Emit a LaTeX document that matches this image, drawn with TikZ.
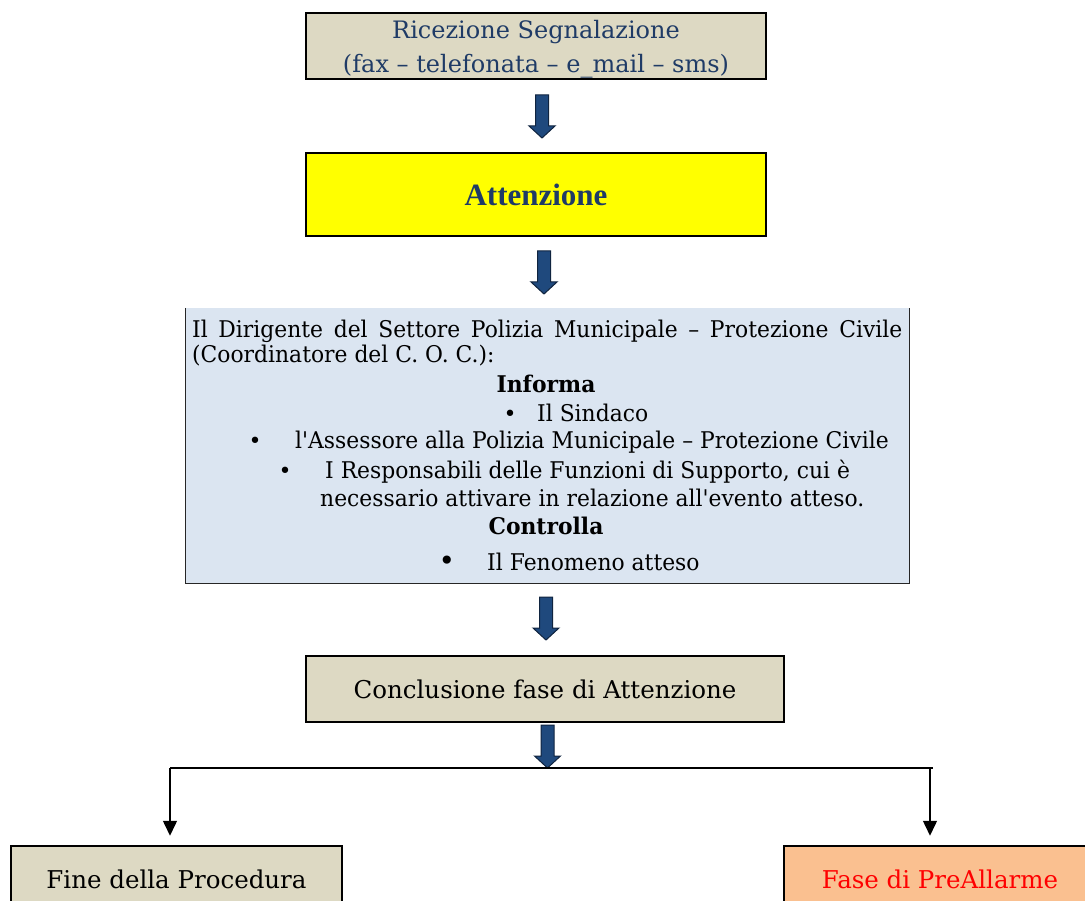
\documentclass[tikz,border=0pt]{standalone}
\usepackage{fontspec}
\setmainfont{DejaVu Serif}
\newfontfamily\timesfont{Liberation Serif}
\newfontfamily\narrowfont[FakeStretch=0.95]{DejaVu Serif}
\usetikzlibrary{arrows.meta}
\definecolor{tanfill}{HTML}{DDD9C3}
\definecolor{bluefill}{HTML}{DBE5F1}
\definecolor{orangefill}{HTML}{FAC090}
\definecolor{yellowfill}{HTML}{FFFF00}
\definecolor{titleblue}{HTML}{1F3B66}
\definecolor{arrowfill}{HTML}{1F497D}
\definecolor{arrowline}{HTML}{10243F}
\definecolor{redtext}{HTML}{FF0000}
\tikzset{
  box/.style={draw=black, line width=2.5pt, inner sep=0pt, align=center},
  tanbox/.style={box, fill=tanfill},
  blockarrow/.pic={
    \path[draw=arrowline, fill=arrowfill, line width=1pt, line join=miter]
      (-6.5,0) -- (6.5,0) -- (6.5,31) -- (13,31) -- (0,43) -- (-13,31) -- (-6.5,31) -- cycle;
  },
  mtext/.style={inner sep=0pt, anchor=base west, font=\narrowfont\fontsize{23}{26}\selectfont},
  mbold/.style={inner sep=0pt, anchor=base, font=\narrowfont\bfseries\fontsize{23}{26}\selectfont},
  bul/.style={inner sep=0pt, anchor=base, font=\fontsize{22}{24}\selectfont},
  thin/.style={line width=1.5pt, draw=black},
  tip/.style={-{Triangle[width=14pt,length=15pt]}, line width=1.5pt}
}
\begin{document}
\begin{tikzpicture}[x=1pt,y=-1pt]
\useasboundingbox (0,0) rectangle (1085,901);
\clip (0,0) rectangle (1085,901);
% box 1
\node[tanbox, minimum width=460pt, minimum height=66pt] (rice) at (536,46) {};
\node[inner sep=0pt, align=center, font=\fontsize{24}{34}\selectfont, text=titleblue] (ricetext) at (536,49)
  {Ricezione Segnalazione\\(fax – telefonata – e\_mail – sms)};
\pic (a1) at (542,95) {blockarrow};
% box 2
\node[box, fill=yellowfill, line width=2.5pt, minimum width=460pt, minimum height=83pt,
  font=\timesfont\bfseries\fontsize{31}{34}\selectfont, text=titleblue] (att) at (536,194.5) {Attenzione};
\pic (a2) at (544,251) {blockarrow};
% box 3
\node[fill=bluefill, inner sep=0pt, minimum width=723pt, minimum height=275pt] (dir) at (547.5,445.5) {};
\draw[line width=1pt, draw=black!85] (dir.north west) -- (dir.south west) -- (dir.south east) -- (dir.north east);
\node[mtext] (l1) at (192,338) {\makebox[710pt][s]{Il Dirigente del Settore Polizia Municipale – Protezione Civile}};
\node[mtext] (l2) at (192,363) {(Coordinatore del C. O. C.):};
\node[mbold] (inf) at (546,392) {Informa};
\node[bul] (b1) at (510,421) {•};
\node[mtext] (t1) at (537,421) {Il Sindaco};
\node[bul] (b2) at (255,449) {•};
\node[mtext] (t2) at (295,449) {l'Assessore alla Polizia Municipale – Protezione Civile};
\node[bul] (b3) at (285,478) {•};
\node[mtext] (t3) at (325,478) {I Responsabili delle Funzioni di Supporto, cui è};
\node[mtext] (t4) at (320,506) {necessario attivare in relazione all'evento atteso.};
\node[mbold] (ctr) at (546,534) {Controlla};
\node[bul, font=\fontsize{28}{28}\selectfont] (b4) at (447,570) {•};
\node[mtext] (t5) at (487,570) {Il Fenomeno atteso};
\pic (a3) at (546,597) {blockarrow};
% box 4
\node[tanbox, minimum width=478pt, minimum height=66pt, font=\fontsize{24.5}{26}\selectfont] (concl) at (545,689) {Conclusione fase di Attenzione};
\pic (a4) at (547.5,725) {blockarrow};
% bottom boxes
\node[tanbox, minimum width=331pt, minimum height=66pt, font=\fontsize{24.5}{26}\selectfont] (fine) at (176.5,879) {Fine della Procedura};
\node[box, fill=orangefill, minimum width=312pt, minimum height=66pt, font=\fontsize{24.5}{26}\selectfont, text=redtext] (pre) at (940,879) {Fase di PreAllarme};
% split connectors
\coordinate (L) at (170,768);
\coordinate (R) at (933,768);
\coordinate (R2) at (930,768);
\draw[thin] (L) -- (R);
\draw[tip, shorten >=9pt] (L) -- (L |- fine.north);
\draw[tip, shorten >=9pt] (R2) -- (R2 |- pre.north);
\end{tikzpicture}
\end{document}
